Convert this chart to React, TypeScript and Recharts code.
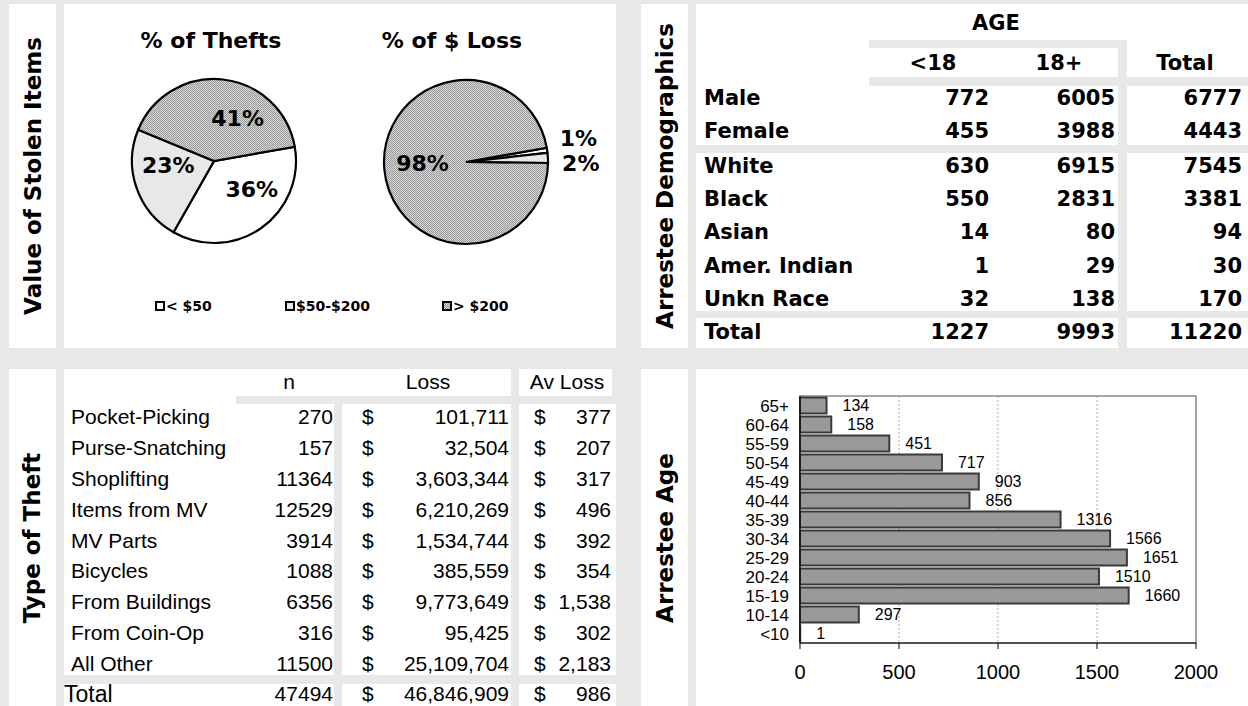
import React from "react";
import {
  PieChart, Pie, Cell, BarChart, Bar, XAxis, YAxis, CartesianGrid, LabelList, ReferenceArea,
} from "recharts";

// value of stolen items
const VALUE_CLASSES = ["< $50", "$50-$200", "> $200"];
const THEFT_PCT = [36, 23, 41];
const LOSS_PCT = [1, 2, 98];

// arrestee demographics
const AGE_COLS = ["<18", "18+", "Total"];
const GENDER_ROWS = ["Male", "Female"];
const GENDER_UNDER18 = [772, 455];
const GENDER_ADULT = [6005, 3988];
const GENDER_TOTAL = [6777, 4443];
const RACE_ROWS = ["White", "Black", "Asian", "Amer. Indian", "Unkn Race"];
const RACE_UNDER18 = [630, 550, 14, 1, 32];
const RACE_ADULT = [6915, 2831, 80, 29, 138];
const RACE_TOTAL = [7545, 3381, 94, 30, 170];
const DEMO_TOTALS = [1227, 9993, 11220];

// type of theft
const THEFT_TYPES = [
  "Pocket-Picking", "Purse-Snatching", "Shoplifting", "Items from MV", "MV Parts",
  "Bicycles", "From Buildings", "From Coin-Op", "All Other",
];
const THEFT_N = [270, 157, 11364, 12529, 3914, 1088, 6356, 316, 11500];
const THEFT_LOSS = [101711, 32504, 3603344, 6210269, 1534744, 385559, 9773649, 95425, 25109704];
const THEFT_AVG = [377, 207, 317, 496, 392, 354, 1538, 302, 2183];
const THEFT_TOTALS = { n: 47494, loss: 46846909, avg: 986 };

// arrestee age
const AGE_GROUPS = ["65+", "60-64", "55-59", "50-54", "45-49", "40-44", "35-39", "30-34", "25-29", "20-24", "15-19", "10-14", "<10"];
const AGE_COUNTS = [134, 158, 451, 717, 903, 856, 1316, 1566, 1651, 1510, 1660, 297, 1];
const AGE_TICKS = [0, 500, 1000, 1500, 2000];

const GRAY = "#e8e8e8";
const BOLD = "'DejaVu Sans', Verdana, sans-serif";
const PLAIN = "'Liberation Sans', Arial, sans-serif";
const SLICE_FILLS = ["#ffffff", "#e8e8e8", "url(#dots)"];
const LEGEND_X = [155, 285, 442];

// label placement tweaks (angle shift in deg, radius factor)
const LABEL_ADJ = {
  thefts: [{ s: 17.5, k: 0.58 }, { s: -14, k: 0.56 }, { s: -23, k: 0.59 }],
  loss: [{ s: 3.7, k: 1.4 }, { s: -3.4, k: 1.4 }, { s: -2.4, k: 0.53 }],
};

const fmt = (v: number) => v.toLocaleString("en-US");

function Box({ x, y, w, h, bg = "#fff" }: { x: number; y: number; w: number; h: number; bg?: string }) {
  return <div style={{ position: "absolute", left: x, top: y, width: w, height: h, background: bg }} />;
}

function T({ x, y, children, align = "left", font = BOLD, size = 21, weight = 700 }: any) {
  const w = 320;
  const left = align === "left" ? x : align === "right" ? x - w : x - w / 2;
  return (
    <div
      style={{
        position: "absolute", left, top: y - 20, width: w, height: 40, lineHeight: "40px",
        textAlign: align, fontFamily: font, fontSize: size, fontWeight: weight, color: "#000",
        whiteSpace: "nowrap",
      }}
    >
      {children}
    </div>
  );
}

function Strip({ x, y, h, text }: { x: number; y: number; h: number; text: string }) {
  return (
    <div
      style={{
        position: "absolute", left: x, top: y, width: 47, height: h, background: "#fff",
        display: "flex", alignItems: "center", justifyContent: "center",
      }}
    >
      <span
        style={{
          transform: "rotate(-90deg)", whiteSpace: "nowrap", fontFamily: BOLD,
          fontWeight: 700, fontSize: 23, color: "#000",
        }}
      >
        {text}
      </span>
    </div>
  );
}

const RAD = Math.PI / 180;
function pieLabel(adj: { s: number; k: number }[]) {
  return (p: any) => {
    const a = (p.midAngle + adj[p.index].s) * RAD;
    const r = p.outerRadius * adj[p.index].k;
    const v = p.value ?? p.payload?.value;
    return (
      <text
        x={p.cx + r * Math.cos(a)}
        y={p.cy - r * Math.sin(a)}
        textAnchor="middle"
        dominantBaseline="central"
        fontFamily={BOLD}
        fontWeight={700}
        fontSize={22}
        fill="#000"
      >
        {v}%
      </text>
    );
  };
}

function PiePanel() {
  const thefts = VALUE_CLASSES.map((name, i) => ({ name, value: THEFT_PCT[i] }));
  const loss = VALUE_CLASSES.map((name, i) => ({ name, value: LOSS_PCT[i] }));
  return (
    <>
      <Box x={64} y={4} w={552} h={344} />
      <div style={{ position: "absolute", left: 64, top: 4 }}>
        <PieChart width={552} height={344} margin={{ top: 0, right: 0, bottom: 0, left: 0 }}>
          <defs>
            <pattern id="dots" width="2" height="2" patternUnits="userSpaceOnUse">
              <rect width="2" height="2" fill="#d6d6d6" />
              <rect width="1" height="1" fill="#9a9a9a" />
              <rect x="1" y="1" width="1" height="1" fill="#9a9a9a" />
            </pattern>
          </defs>
          <Pie
            data={thefts} dataKey="value" nameKey="name" cx={150} cy={157} outerRadius={82}
            startAngle={10} endAngle={-350} stroke="#000" strokeWidth={2.2}
            labelLine={false} label={pieLabel(LABEL_ADJ.thefts)} isAnimationActive={false}
          >
            {thefts.map((_, i) => <Cell key={i} fill={SLICE_FILLS[i]} />)}
          </Pie>
          <Pie
            data={loss} dataKey="value" nameKey="name" cx={402} cy={158} outerRadius={82}
            startAngle={10} endAngle={-350} stroke="#000" strokeWidth={2.2}
            labelLine={false} label={pieLabel(LABEL_ADJ.loss)} isAnimationActive={false}
          >
            {loss.map((_, i) => <Cell key={i} fill={SLICE_FILLS[i]} />)}
          </Pie>
        </PieChart>
      </div>
      <T x={211} y={41} align="center" size={22}>% of Thefts</T>
      <T x={452} y={41} align="center" size={22}>% of $ Loss</T>
      {VALUE_CLASSES.map((name, i) => (
        <div
          key={name}
          style={{
            position: "absolute", left: LEGEND_X[i], top: 297, height: 18, display: "flex",
            alignItems: "center", fontFamily: BOLD, fontWeight: 700, fontSize: 14, color: "#000",
          }}
        >
          <svg width={10} height={10} style={{ marginRight: 1 }}>
            <defs>
              <pattern id={`ld${i}`} width="2" height="2" patternUnits="userSpaceOnUse">
                <rect width="2" height="2" fill="#d6d6d6" />
                <rect width="1" height="1" fill="#9a9a9a" />
                <rect x="1" y="1" width="1" height="1" fill="#9a9a9a" />
              </pattern>
            </defs>
            <rect x={1} y={1} width={8} height={8} fill={i === 2 ? `url(#ld${i})` : SLICE_FILLS[i]} stroke="#000" strokeWidth={2} />
          </svg>
          {name}
        </div>
      ))}
    </>
  );
}

function DemoPanel() {
  const colX = [989, 1115, 1242];
  const headX = [933, 1059, 1185];
  const row = (label: string, vals: number[], y: number) => (
    <React.Fragment key={label + y}>
      <T x={704} y={y}>{label}</T>
      {vals.map((v, j) => <T key={j} x={colX[j]} y={y} align="right">{v}</T>)}
    </React.Fragment>
  );
  return (
    <>
      <Box x={696} y={4} w={552} h={344} />
      <Box x={869} y={40} w={258} h={8} bg={GRAY} />
      <Box x={1118} y={40} w={9} h={308} bg={GRAY} />
      <Box x={869} y={77} w={379} h={9} bg={GRAY} />
      <Box x={696} y={145} w={552} h={8} bg={GRAY} />
      <Box x={696} y={311} w={552} h={7} bg={GRAY} />
      <T x={996} y={23} align="center">AGE</T>
      {AGE_COLS.map((c, j) => <T key={c} x={headX[j]} y={63} align="center">{c}</T>)}
      {GENDER_ROWS.map((g, i) => row(g, [GENDER_UNDER18[i], GENDER_ADULT[i], GENDER_TOTAL[i]], 98 + 33 * i))}
      {RACE_ROWS.map((r, i) => row(r, [RACE_UNDER18[i], RACE_ADULT[i], RACE_TOTAL[i]], 166 + 33.2 * i))}
      {row("Total", DEMO_TOTALS, 332)}
    </>
  );
}

function TheftPanel() {
  const p = { font: PLAIN, weight: 400, size: 21 };
  const line = (label: string, n: number, loss: number, avg: number, y: number, lx: number, ls = 21) => (
    <React.Fragment key={label}>
      <T {...p} size={ls} x={lx} y={y}>{label}</T>
      <T {...p} x={333} y={y} align="right">{n}</T>
      <T {...p} x={362} y={y}>$</T>
      <T {...p} x={509} y={y} align="right">{fmt(loss)}</T>
      <T {...p} x={534} y={y}>$</T>
      <T {...p} x={611} y={y} align="right">{fmt(avg)}</T>
    </React.Fragment>
  );
  return (
    <>
      <Box x={64} y={369} w={447} h={27} />
      <Box x={519} y={369} w={93} h={27} />
      <Box x={64} y={396} w={172} h={8} />
      <Box x={64} y={404} w={270} h={271} />
      <Box x={342} y={404} w={169} h={271} />
      <Box x={519} y={404} w={97} h={271} />
      <Box x={64} y={684} w={270} h={22} />
      <Box x={342} y={684} w={169} h={22} />
      <Box x={519} y={684} w={97} h={22} />
      <T {...p} x={289} y={382} align="center">n</T>
      <T {...p} x={428} y={382} align="center">Loss</T>
      <T {...p} x={567} y={382} align="center">Av Loss</T>
      {THEFT_TYPES.map((t, i) => line(t, THEFT_N[i], THEFT_LOSS[i], THEFT_AVG[i], 417.4 + 30.8 * i, 71))}
      {line("Total", THEFT_TOTALS.n, THEFT_TOTALS.loss, THEFT_TOTALS.avg, 694, 64, 23)}
    </>
  );
}

function AgePanel() {
  const data = AGE_GROUPS.map((age, i) => ({ age, count: AGE_COUNTS[i] }));
  return (
    <>
      <Box x={696} y={369} w={552} h={337} />
      <div style={{ position: "absolute", left: 696, top: 369 }}>
        <BarChart
          width={552} height={337} data={data} layout="vertical"
          margin={{ top: 27, right: 52, bottom: 23, left: 44 }} barCategoryGap="8%"
        >
          <CartesianGrid horizontal={false} stroke="#b0b0b0" strokeDasharray="2 2" />
          <ReferenceArea x1={0} x2={2000} fill="none" stroke="#8a8a8a" strokeWidth={1.5} ifOverflow="visible" />
          <XAxis
            type="number" domain={[0, 2000]} ticks={AGE_TICKS} height={40}
            stroke="#000" tickSize={6} tickMargin={16}
            tick={{ fill: "#000", fontFamily: PLAIN, fontSize: 20 }}
          />
          <YAxis
            type="category" dataKey="age" width={60} interval={0}
            stroke="#000" tickLine={false} tickSize={0} tickMargin={11}
            tick={{ fill: "#000", fontFamily: PLAIN, fontSize: 17 }}
          />
          <Bar dataKey="count" fill="#999999" stroke="#3a3a3a" strokeWidth={2} isAnimationActive={false}>
            <LabelList dataKey="count" position="right" offset={16} fill="#000" fontFamily={PLAIN} fontSize={16} />
          </Bar>
        </BarChart>
      </div>
    </>
  );
}

export default function App() {
  return (
    <div style={{ position: "absolute", left: 0, top: 0, width: 1248, height: 706, background: GRAY, overflow: "hidden" }}>
      <Strip x={9} y={4} h={344} text="Value of Stolen Items" />
      <Strip x={641} y={4} h={344} text="Arrestee Demographics" />
      <Strip x={9} y={369} h={337} text="Type of Theft" />
      <Strip x={641} y={369} h={337} text="Arrestee Age" />
      <PiePanel />
      <DemoPanel />
      <TheftPanel />
      <AgePanel />
    </div>
  );
}
